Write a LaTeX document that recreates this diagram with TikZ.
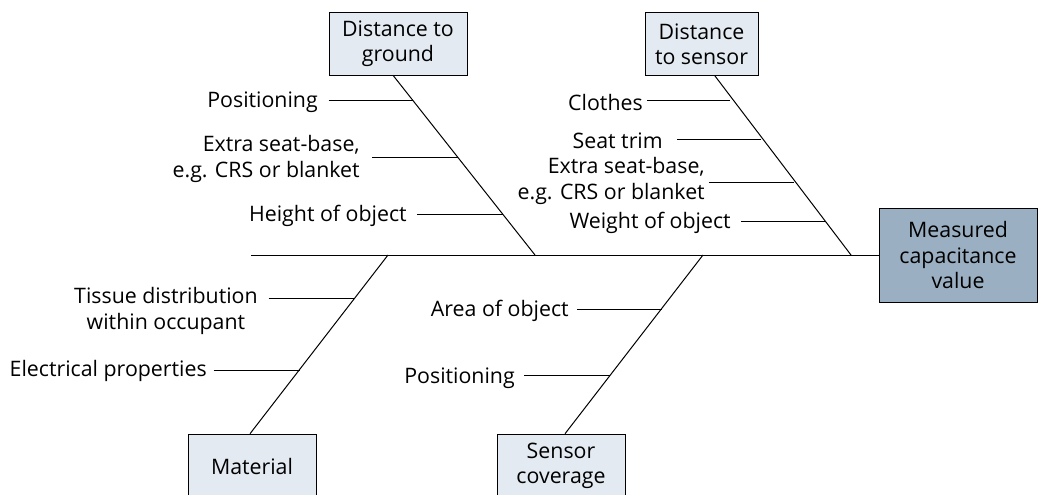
\documentclass[tikz,border=0pt]{standalone}
\usepackage{fontspec}
\setmainfont{Open Sans}
\usepackage[]{xcolor}
\definecolor{causefill}{HTML}{E3EAF2}
\definecolor{effectfill}{HTML}{9AAFC1}

\begin{document}
\begin{tikzpicture}[
            x=0.75pt, y=-0.75pt,
            every node/.style={font=\fontsize{16}{19}\selectfont},
            cause/.style={rectangle, draw, fill=causefill, inner sep=0pt, align=center},
            effect/.style={rectangle, draw, fill=effectfill, minimum width=118.5pt, minimum height=70.5pt, inner sep=0pt, align=center},
            label/.style={inner sep=0pt, align=right},
            bone/.style={line width=0.75pt},
            twig/.style={line width=0.75pt}
        ]
            \useasboundingbox (0,0) rectangle (1041,494);
            \clip (0,0) rectangle (1041,494);

            % head and spine
            \node[effect] (E) at (958,255) {Measured\\capacitance\\value};
            \coordinate (S0) at (251,255);
            \draw[bone] (S0) -- (E.west);

            % cause boxes
            \node[cause, minimum width=103.5pt, minimum height=47.25pt] (C1) at (398,43.5) {Distance to\\ground};
            \node[cause, minimum width=84.75pt, minimum height=47.25pt] (C2) at (701.5,44) {Distance\\to sensor};
            \node[cause, minimum width=96pt, minimum height=48pt] (C3) at (252,466) {Material};
            \node[cause, minimum width=96pt, minimum height=48pt] (C4) at (561,466) {Sensor\\coverage};

            % bones
            \coordinate (B1) at (535,255);
            \coordinate (B2) at (851,255);
            \coordinate (B3) at (388,255);
            \coordinate (B4) at (703,255);
            \draw[bone] ([xshift=-3.75pt]C1.south) -- (B1);
            \draw[bone] ([xshift=10pt]C2.south) -- (B2);
            \draw[bone] (B3) -- ([xshift=-1.5pt]C3.north);
            \draw[bone] (B4) -- ([xshift=3pt]C4.north);

            % distance to ground
            \node[label, anchor=east] (L1) at (318,102) {Positioning};
            \node[label, anchor=east] (L2) at (360,159) {Extra seat-base,\\e.g. CRS or blanket};
            \node[label, anchor=east] (L3) at (407,216) {Height of object};
            \coordinate (P1) at (413,100);
            \coordinate (P2) at (458,157);
            \coordinate (P3) at (503,214);
            \draw[twig] ([xshift=8pt]P1 -| L1.east) -- (P1);
            \draw[twig] ([xshift=9pt]P2 -| L2.east) -- (P2);
            \draw[twig] ([xshift=7.5pt]P3 -| L3.east) -- (P3);

            % distance to sensor
            \node[label, anchor=east] (L4) at (643,102) {Clothes};
            \node[label, anchor=east] (L5) at (663,141) {Seat trim};
            \node[label, anchor=east] (L6) at (705,181) {Extra seat-base,\\e.g. CRS or blanket};
            \node[label, anchor=east] (L7) at (731,223) {Weight of object};
            \coordinate (P4) at (730,100);
            \coordinate (P5) at (761,139);
            \coordinate (P6) at (794,182);
            \coordinate (P7) at (825,221);
            \draw[twig] ([xshift=3pt]P4 -| L4.east) -- (P4);
            \draw[twig] ([xshift=10.5pt]P5 -| L5.east) -- (P5);
            \draw[twig] ([xshift=3pt]P6 -| L6.east) -- (P6);
            \draw[twig] ([xshift=7.5pt]P7 -| L7.east) -- (P7);

            % material
            \node[label, anchor=east, align=center] (L8) at (258,311) {Tissue distribution\\within occupant};
            \node[label, anchor=east] (L9) at (207,371) {Electrical properties};
            \coordinate (P8) at (354,298);
            \coordinate (P9) at (300,370);
            \draw[twig] ([xshift=8pt]P8 -| L8.east) -- (P8);
            \draw[twig] ([xshift=5pt]P9 -| L9.east) -- (P9);

            % sensor coverage
            \node[label, anchor=east] (L10) at (569,311) {Area of object};
            \node[label, anchor=east] (L11) at (515,378) {Positioning};
            \coordinate (P10) at (662,309);
            \coordinate (P11) at (610,375);
            \draw[twig] ([xshift=6pt]P10 -| L10.east) -- (P10);
            \draw[twig] ([xshift=6.75pt]P11 -| L11.east) -- (P11);
        \end{tikzpicture}
\end{document}
